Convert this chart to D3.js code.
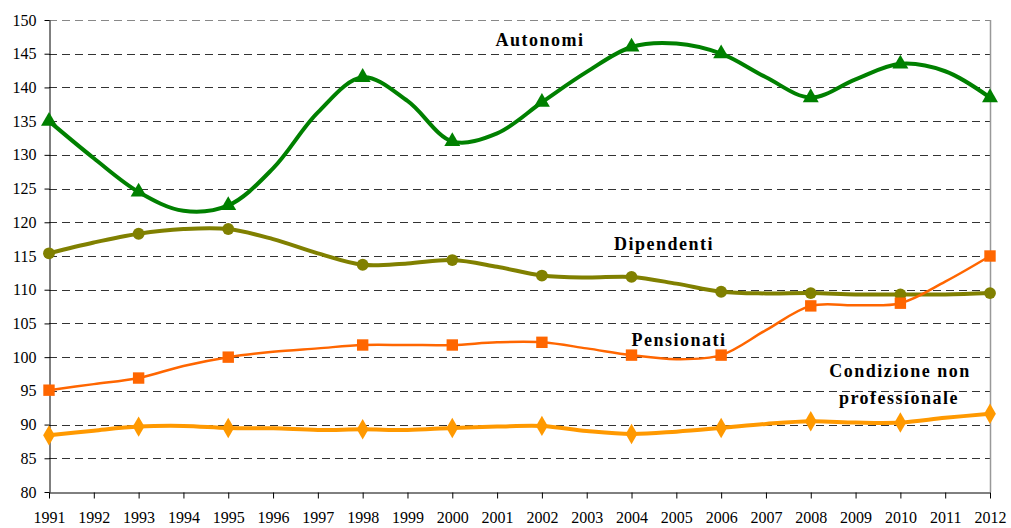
<!DOCTYPE html>
<html>
<head>
<meta charset="utf-8">
<script src="https://cdn.jsdelivr.net/npm/d3@7"></script>
<style>
  body { margin: 0; background: #fff; }
</style>
</head>
<body>
<div id="chart"></div>
<script>
const years = d3.range(1991, 2013);
const markerYears = [1991, 1993, 1995, 1998, 2000, 2002, 2004, 2006, 2008, 2010, 2012];
const yTicks = d3.range(80, 151, 5);

const autonomi   = [135, 129.5, 124.5, 121.7, 122.5, 128, 136.3, 141.5, 138, 132, 133.2, 137.8, 142.3, 146, 146.5, 145, 141.5, 138.5, 141.2, 143.5, 142.4, 138.5];
const dipendenti = [115.4, 117, 118.3, 119, 119, 117.5, 115.4, 113.7, 113.9, 114.4, 113.4, 112.1, 111.8, 111.9, 110.9, 109.7, 109.45, 109.5, 109.3, 109.3, 109.3, 109.5];
const pensionati = [95.1, 96, 96.9, 98.7, 100, 100.8, 101.3, 101.8, 101.8, 101.8, 102.2, 102.2, 101.3, 100.3, 99.7, 100.3, 104, 107.6, 107.7, 108, 111.2, 115];
const condizione = [88.4, 89.1, 89.7, 89.8, 89.5, 89.45, 89.2, 89.3, 89.2, 89.5, 89.7, 89.8, 89.05, 88.6, 88.95, 89.5, 90.1, 90.5, 90.3, 90.3, 91, 91.6];

const series = [
  { name: "Autonomi", values: autonomi, color: "#008000", width: 4, symbol: d3.symbolTriangle, size: 110 },
  { name: "Dipendenti", values: dipendenti, color: "#808000", width: 4, symbol: d3.symbolCircle, size: 110 },
  { name: "Pensionati", values: pensionati, color: "#FF6600", width: 2.5, symbol: d3.symbolSquare, size: 130 },
  { name: "Condizione", values: condizione, color: "#FF9900", width: 4, symbol: d3.symbolDiamond, size: 120 }
];

const serif = "'Liberation Serif', 'Times New Roman', Times, serif";
const width = 1011, height = 528;
const margin = { top: 20, right: 21, bottom: 36, left: 49 };

const svg = d3.select("#chart").append("svg")
  .attr("width", width)
  .attr("height", height);

const x = d3.scaleLinear().domain([1991, 2012]).range([margin.left, width - margin.right]);
const y = d3.scaleLinear().domain([80, 150]).range([height - margin.bottom, margin.top]);

// grid lines
svg.append("g").selectAll("line")
  .data(yTicks.filter(d => d > 80))
  .enter().append("line")
  .attr("x1", margin.left).attr("x2", width - margin.right)
  .attr("y1", d => Math.round(y(d)) + 0.5).attr("y2", d => Math.round(y(d)) + 0.5)
  .attr("stroke", d => d === 150 ? "#888" : "#333")
  .attr("stroke-dasharray", "8,5");

// right border
svg.append("line")
  .attr("x1", width - margin.right + 0.5).attr("x2", width - margin.right + 0.5)
  .attr("y1", y(150)).attr("y2", y(80))
  .attr("stroke", "#999").attr("stroke-width", 1.5);

// axes
const xAxis = svg.append("g")
  .attr("transform", `translate(0, ${Math.round(y(80)) + 0.5})`)
  .call(d3.axisBottom(x).tickValues(years).tickFormat(d3.format("d")).tickSize(6).tickSizeOuter(0).tickPadding(13));

const yAxis = svg.append("g")
  .attr("transform", `translate(${margin.left + 0.5}, 0)`)
  .call(d3.axisLeft(y).tickValues(yTicks).tickSize(5).tickSizeOuter(0).tickPadding(8));

[xAxis, yAxis].forEach(g => {
  g.attr("font-family", serif).attr("font-size", 16);
  g.selectAll("text").attr("fill", "#000");
});

const line = d3.line()
  .x((d, i) => x(years[i]))
  .y(d => y(d))
  .curve(d3.curveCatmullRom.alpha(0.5));

series.forEach(s => {
  svg.append("path")
    .datum(s.values)
    .attr("fill", "none")
    .attr("stroke", s.color)
    .attr("stroke-width", s.width)
    .attr("d", line);

  svg.append("g").selectAll("path")
    .data(markerYears)
    .enter().append("path")
    .attr("d", d3.symbol().type(s.symbol).size(s.size))
    .attr("transform", d => `translate(${x(d)}, ${y(s.values[years.indexOf(d)])})`)
    .attr("fill", s.color);
});

// series labels
const labels = [
  { text: "Autonomi", x: 540, y: 46 },
  { text: "Dipendenti", x: 664, y: 250 },
  { text: "Pensionati", x: 679, y: 346 },
  { text: "Condizione non", x: 900, y: 377 },
  { text: "professionale", x: 899, y: 404 }
];
svg.append("g").selectAll("text")
  .data(labels)
  .enter().append("text")
  .attr("font-family", serif)
  .attr("font-size", 18)
  .attr("font-weight", "bold")
  .attr("letter-spacing", 1.5)
  .attr("x", d => d.x).attr("y", d => d.y)
  .attr("text-anchor", "middle")
  .text(d => d.text);
</script>
</body>
</html>
